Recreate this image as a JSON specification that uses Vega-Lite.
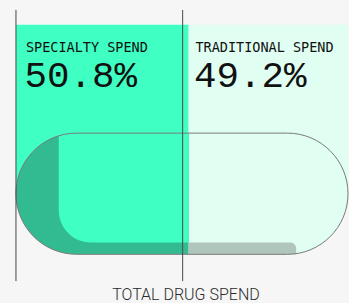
{
  "$schema": "https://vega.github.io/schema/vega-lite/v6.json",
  "width": 349,
  "height": 303,
  "autosize": {"type": "fit", "contains": "padding"},
  "padding": 0,
  "background": "#f6f6f6",
  "config": {"view": {"stroke": null}},
  "datasets": {
    "shapes": [
      {"shape": "spec_bg", "x": 0, "x2": 52, "y": 25, "y2": 195},
      {"shape": "trad_bg", "x": 52, "x2": 100, "y": 25, "y2": 195},
      {"shape": "trad_pill", "x": 52, "x2": 100, "y": 134, "y2": 256},
      {"shape": "spec_dots", "x": 0, "x2": 52, "y": 134, "y2": 256},
      {"shape": "spec_inner", "x": 12.9, "x2": 52, "y": 134, "y2": 244},
      {"shape": "trad_dots", "x": 52, "x2": 84.4, "y": 244, "y2": 256},
      {"shape": "pill", "x": 0, "x2": 100, "y": 134, "y2": 256}
    ],
    "rules": [
      {"x": 0, "y": 10, "y2": 283},
      {"x": 50.2, "y": 10, "y2": 283}
    ],
    "labels": [
      {"kind": "head", "label": "SPECIALTY SPEND", "x": 3.0, "y": 52},
      {"kind": "value", "label": "50.8%", "x": 2.6, "y": 88},
      {"kind": "head", "label": "TRADITIONAL SPEND", "x": 54.05, "y": 52},
      {"kind": "value", "label": "49.2%", "x": 53.6, "y": 88},
      {"kind": "total", "label": "TOTAL DRUG SPEND", "x": 51.2, "y": 302}
    ]
  },
  "encoding": {
    "x": {"field": "x", "type": "quantitative", "scale": {"domain": [-4.805, 100], "nice": false, "zero": false}, "axis": null},
    "y": {"field": "y", "type": "quantitative", "scale": {"domain": [0, 303], "nice": false, "zero": false, "reverse": true}, "axis": null}
  },
  "layer": [
    {
      "data": {"name": "shapes"},
      "transform": [{"filter": "datum.shape === 'spec_bg'"}],
      "mark": {"type": "rect", "fill": "#40FFC2"},
      "encoding": {"x2": {"field": "x2"}, "y2": {"field": "y2"}}
    },
    {
      "data": {"name": "shapes"},
      "transform": [{"filter": "datum.shape === 'trad_bg'"}],
      "mark": {"type": "rect", "fill": "#E0FFF2"},
      "encoding": {"x2": {"field": "x2"}, "y2": {"field": "y2"}}
    },
    {
      "data": {"name": "shapes"},
      "transform": [{"filter": "datum.shape === 'trad_pill'"}],
      "mark": {"type": "rect", "fill": "#E0FFF2", "cornerRadiusTopRight": 61, "cornerRadiusBottomRight": 61},
      "encoding": {"x2": {"field": "x2"}, "y2": {"field": "y2"}}
    },
    {
      "data": {"name": "shapes"},
      "transform": [{"filter": "datum.shape === 'spec_dots'"}],
      "mark": {"type": "rect", "fill": "#32BB90", "cornerRadiusTopLeft": 61, "cornerRadiusBottomLeft": 61},
      "encoding": {"x2": {"field": "x2"}, "y2": {"field": "y2"}}
    },
    {
      "data": {"name": "shapes"},
      "transform": [{"filter": "datum.shape === 'spec_inner'"}],
      "mark": {"type": "rect", "fill": "#40FFC2", "cornerRadiusBottomLeft": 32},
      "encoding": {"x2": {"field": "x2"}, "y2": {"field": "y2"}}
    },
    {
      "data": {"name": "shapes"},
      "transform": [{"filter": "datum.shape === 'trad_dots'"}],
      "mark": {"type": "rect", "fill": "#B0C6BD", "cornerRadiusTopRight": 8},
      "encoding": {"x2": {"field": "x2"}, "y2": {"field": "y2"}}
    },
    {
      "data": {"name": "shapes"},
      "transform": [{"filter": "datum.shape === 'pill'"}],
      "mark": {"type": "rect", "fill": null, "fillOpacity": 0, "stroke": "#7a7a7a", "strokeWidth": 1, "cornerRadius": 61},
      "encoding": {"x2": {"field": "x2"}, "y2": {"field": "y2"}}
    },
    {
      "data": {"name": "rules"},
      "mark": {"type": "rule", "stroke": "#4a4a4a", "strokeWidth": 1},
      "encoding": {"y2": {"field": "y2"}}
    },
    {
      "data": {"name": "labels"},
      "transform": [{"filter": "datum.kind === 'head'"}],
      "mark": {"type": "text", "align": "left", "baseline": "alphabetic", "font": "DejaVu Sans Mono", "fontSize": 13.5, "fill": "#111111"},
      "encoding": {"text": {"field": "label"}}
    },
    {
      "data": {"name": "labels"},
      "transform": [{"filter": "datum.kind === 'value'"}],
      "mark": {"type": "text", "align": "left", "baseline": "alphabetic", "font": "Liberation Mono", "fontSize": 37.5, "fill": "#111111"},
      "encoding": {"text": {"field": "label"}}
    },
    {
      "data": {"name": "labels"},
      "transform": [{"filter": "datum.kind === 'total'"}],
      "mark": {"type": "text", "align": "center", "baseline": "alphabetic", "font": "Roboto", "fontWeight": 300, "fontSize": 16, "fill": "#2a2a2a"},
      "encoding": {"text": {"field": "label"}}
    }
  ]
}
